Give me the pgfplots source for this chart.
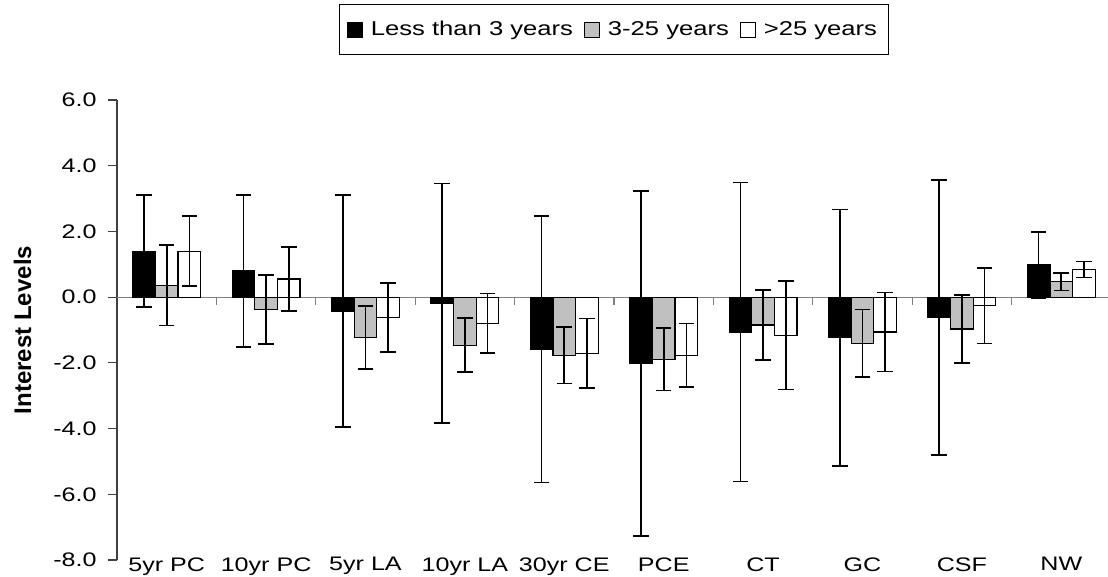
\documentclass[border=0pt]{standalone}
\usepackage{fontspec}
\setmainfont{Liberation Sans}[FakeStretch=1.28]
\newfontfamily\ylabfont{Liberation Sans}
\usepackage{pgfplots}
\usepackage{pgfplotstable}
\pgfplotsset{compat=1.18}
\definecolor{barGray}{RGB}{192,192,192}

\pgfplotstableread{
x y e
0 1.40 1.71
1 0.80 2.31
2 -0.43 3.53
3 -0.19 3.65
4 -1.59 4.05
5 -2.02 5.24
6 -1.06 4.55
7 -1.23 3.90
8 -0.62 4.18
9 0.98 1.00
}\dataA
\pgfplotstableread{
x y e
0 0.36 1.22
1 -0.38 1.05
2 -1.22 0.96
3 -1.46 0.82
4 -1.77 0.86
5 -1.89 0.95
6 -0.85 1.06
7 -1.41 1.03
8 -0.97 1.04
9 0.47 0.27
}\dataB
\pgfplotstableread{
x y e
0 1.40 1.07
1 0.55 0.97
2 -0.62 1.04
3 -0.80 0.91
4 -1.71 1.06
5 -1.77 0.97
6 -1.16 1.65
7 -1.06 1.20
8 -0.26 1.15
9 0.84 0.24
}\dataC

\begin{document}
\begin{tikzpicture}
\useasboundingbox (-58.5pt,-8.5pt) rectangle (495.5pt,280pt);
\begin{axis}[
  at={(0pt,0pt)}, anchor=south west,
  scale only axis, width=497pt, height=230pt,
  xmin=-0.5, xmax=9.5, ymin=-8, ymax=6,
  axis y line*=left, axis x line*=bottom,
  x axis line style={draw=none},
  y axis line style={draw=black!75, line width=0.6pt},
  ytick={-8,-6,-4,-2,0,2,4,6},
  yticklabels={-8.0,-6.0,-4.0,-2.0,0.0,2.0,4.0,6.0},
  ytick style={draw=black!75, line width=0.6pt},
  tick align=outside, major tick length=4.5pt,
  yticklabel style={font=\fontsize{9.8}{11}\selectfont, inner sep=0pt, xshift=-5.5pt},
  xtick={0,1,2,3,4,5,6,7,8,9},
  xticklabels={5yr PC,10yr PC,5yr LA,10yr LA,30yr CE,PCE,CT,GC,CSF,NW},
  xtick style={draw=none},
  xticklabel style={font=\fontsize{9.8}{11}\selectfont, inner sep=0pt, anchor=north, yshift=6pt},
  extra y ticks={0}, extra y tick labels={},
  extra y tick style={grid=major, major grid style={draw=black!50, line width=0.6pt}},
  ylabel={Interest Levels},
  ylabel style={font=\ylabfont\bfseries\fontsize{12}{14}\selectfont, at={(axis description cs:-0.0951,0.5)}, anchor=center},
  ybar=0pt, bar width=0.228,
  legend columns=3,
  legend style={at={(0.5,1)}, anchor=south, yshift=22.5pt, draw=black, line width=0.5pt,
    font=\fontsize{10}{12}\selectfont, inner xsep=3.5pt, inner ysep=6pt,
    /tikz/every even column/.append style={column sep=3.5pt},
    /tikz/every odd column/.append style={column sep=2pt}},
  legend image code/.code={\draw[#1, line width=0.5pt] (0pt,-3.75pt) rectangle (7.5pt,3.75pt);},
  error bars/y dir=both, error bars/y explicit,
  error bars/error bar style={line width=0.85pt, black},
  error bars/error mark options={rotate=90, line width=0.85pt, mark size=3.9pt, black},
]
\addplot[fill=black, draw=black, line width=0.6pt] table[x=x, y=y, y error=e]{\dataA};
\addplot[fill=barGray, draw=black, line width=0.6pt] table[x=x, y=y, y error=e]{\dataB};
\addplot[fill=white, draw=black, line width=0.6pt] table[x=x, y=y, y error=e]{\dataC};
\legend{Less than 3 years, 3-25 years, >25 years}
\pgfplotsinvokeforeach{0.5,1.5,2.5,3.5,4.5,5.5,6.5,7.5,8.5}{
  \draw[black!50, line width=0.6pt] (axis cs:#1,0) -- ++(0pt,-4pt);
}
\end{axis}
\end{tikzpicture}
\end{document}
